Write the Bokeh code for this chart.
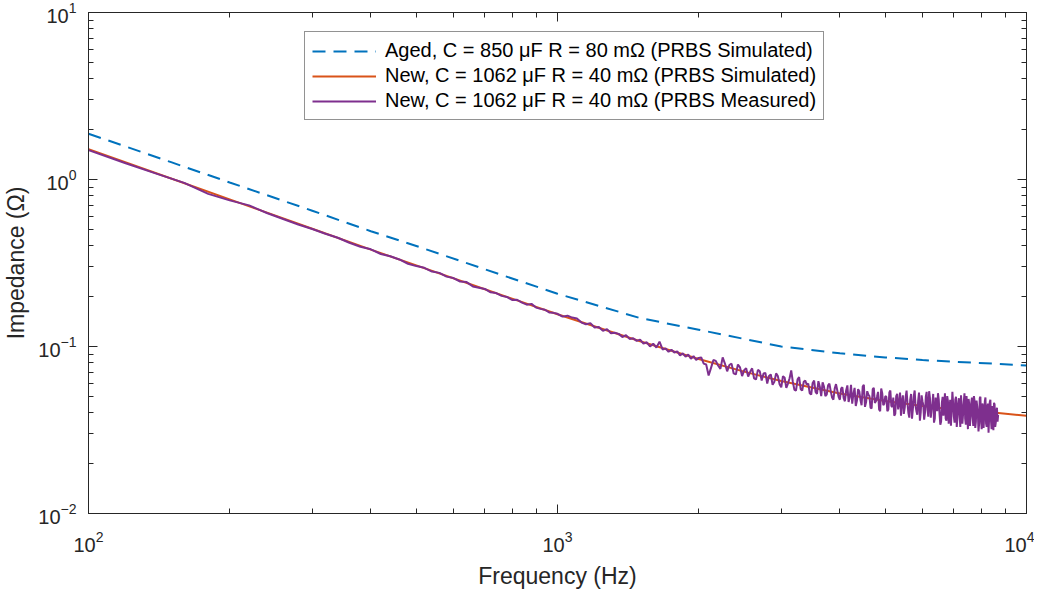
from bokeh.plotting import figure
from bokeh.models import LogAxis, Legend, LegendItem, FixedTicker, Range1d
from bokeh.embed import file_html
from bokeh.resources import INLINE

# ---------------- data ----------------
sim_freq = [100, 150, 200, 300, 400, 500, 700, 1000, 1500, 2000, 2500, 3000,
            4000, 5000, 6000, 7000, 8500, 10000]
aged_sim = [1.88, 1.27, 0.96, 0.65, 0.49, 0.40, 0.29, 0.207, 0.148, 0.126, 0.111,
            0.100, 0.091, 0.086, 0.083, 0.081, 0.079, 0.077]
new_sim = [1.52, 1.013, 0.76, 0.507, 0.38, 0.306, 0.22, 0.156, 0.1075, 0.0841,
           0.0707, 0.0621, 0.0523, 0.0471, 0.0440, 0.0420, 0.0402, 0.0385]

meas_f_low = [100, 120, 140, 160, 180, 200, 220, 240, 260, 280, 300, 320, 340, 360,
              380, 400, 420, 440, 460, 480, 500, 520, 540, 560, 580, 600, 620, 640,
              660, 680, 700, 720, 740, 760, 780, 800, 820, 840, 860, 880, 900, 920,
              940, 960, 980, 1000]
meas_z_low = [1.50, 1.25, 1.08, 0.955, 0.82, 0.75, 0.70, 0.63, 0.58, 0.538, 0.505,
              0.473, 0.448, 0.418, 0.396, 0.382, 0.358, 0.347, 0.332, 0.313, 0.303,
              0.296, 0.281, 0.276, 0.262, 0.257, 0.245, 0.243, 0.229, 0.225, 0.221,
              0.211, 0.209, 0.201, 0.198, 0.190, 0.1905, 0.183, 0.178, 0.180, 0.171,
              0.168, 0.166, 0.160, 0.159, 0.157]

meas_f_mid = [1025, 1050, 1075, 1100, 1125, 1150, 1175, 1200, 1225, 1250, 1275, 1300,
              1325, 1350, 1375, 1400, 1425, 1450, 1475, 1500, 1525, 1550, 1575, 1600,
              1625, 1650, 1675, 1700, 1725, 1750, 1775, 1800, 1825, 1850, 1875, 1900,
              1925, 1950, 1975, 2000]
meas_z_mid = [0.151, 0.153, 0.149, 0.147, 0.139, 0.136, 0.138, 0.130, 0.131, 0.124,
              0.127, 0.120, 0.121, 0.119, 0.114, 0.117, 0.111, 0.112, 0.108, 0.110,
              0.104, 0.106, 0.100, 0.104, 0.0985, 0.107, 0.096, 0.0975, 0.093, 0.0955,
              0.092, 0.0935, 0.0885, 0.091, 0.087, 0.0895, 0.0845, 0.0875, 0.083, 0.0855]

meas_f_high1 = [2050, 2100, 2150, 2200, 2250, 2300, 2350, 2400, 2450, 2500, 2550, 2600,
                2650, 2700, 2750, 2800, 2850, 2900, 2950, 3000, 3050, 3100, 3150, 3200,
                3250, 3300, 3350, 3400, 3450, 3500, 3550, 3600, 3650, 3700, 3750, 3800,
                3850, 3900, 3950, 4000, 4050, 4100, 4150, 4200, 4250, 4300, 4350, 4400,
                4450, 4500, 4550, 4600, 4650, 4700, 4750, 4800, 4850, 4900, 4950, 5000]
meas_z_high1 = [0.079, 0.067, 0.083, 0.077, 0.086, 0.071, 0.079, 0.068, 0.075, 0.072,
                0.066, 0.074, 0.0635, 0.071, 0.069, 0.060, 0.068, 0.0615, 0.0665, 0.057,
                0.065, 0.060, 0.072, 0.055, 0.0635, 0.0555, 0.0615, 0.059, 0.0525, 0.0605,
                0.0535, 0.062, 0.0505, 0.0575, 0.0515, 0.060, 0.0495, 0.056, 0.0545, 0.048,
                0.057, 0.047, 0.0585, 0.050, 0.0455, 0.0565, 0.0475, 0.054, 0.0445, 0.059,
                0.0465, 0.0515, 0.043, 0.0555, 0.046, 0.050, 0.042, 0.056, 0.0445, 0.0505]

meas_f_high1b = [2025, 2075, 2125, 2175, 2225, 2275, 2325, 2375, 2425, 2475, 2525, 2575,
                 2625, 2675, 2725, 2775, 2825, 2875, 2925, 2975, 3025, 3075, 3125, 3175,
                 3225, 3275, 3325, 3375, 3425, 3475, 3525, 3575, 3625, 3675, 3725, 3775,
                 3825, 3875, 3925, 3975, 4025, 4075, 4125, 4175, 4225, 4275, 4325, 4375,
                 4425, 4475, 4525, 4575, 4625, 4675, 4725, 4775, 4825, 4875, 4925, 4975]
meas_z_high1b = [0.086, 0.078, 0.0745, 0.082, 0.0735, 0.079, 0.0775, 0.069, 0.078, 0.0665,
                 0.074, 0.0705, 0.0645, 0.0725, 0.0625, 0.0695, 0.0665, 0.059, 0.069, 0.0595,
                 0.0665, 0.0565, 0.0645, 0.0615, 0.0545, 0.0655, 0.0545, 0.0625, 0.060, 0.0515,
                 0.0625, 0.052, 0.0575, 0.061, 0.0505, 0.0585, 0.054, 0.048, 0.0595, 0.050,
                 0.056, 0.049, 0.0545, 0.0465, 0.059, 0.052, 0.044, 0.0555, 0.048, 0.0575,
                 0.0435, 0.054, 0.0505, 0.0425, 0.0565, 0.047, 0.0535, 0.041, 0.0525, 0.0455]

meas_f_high2 = [5050, 5100, 5150, 5200, 5250, 5300, 5350, 5400, 5450, 5500, 5550, 5600,
                5650, 5700, 5750, 5800, 5850, 5900, 5950, 6000, 6050, 6100, 6150, 6200,
                6250, 6300, 6350, 6400, 6450, 6500, 6550, 6600, 6650, 6700, 6750, 6800,
                6850, 6900, 6950, 7000, 7050, 7100, 7150, 7200, 7250, 7300, 7350, 7400,
                7450, 7500, 7550, 7600, 7650, 7700, 7750, 7800, 7850, 7900, 7950, 8000,
                8050, 8100, 8150, 8200, 8250, 8300, 8350, 8400, 8450, 8500, 8550, 8600,
                8650, 8700]
meas_z_high2 = [0.041, 0.053, 0.044, 0.0495, 0.0395, 0.052, 0.0455, 0.0385, 0.051, 0.043,
                0.0545, 0.040, 0.048, 0.037, 0.0505, 0.044, 0.039, 0.053, 0.0405, 0.047,
                0.0365, 0.050, 0.042, 0.054, 0.0375, 0.0455, 0.035, 0.0495, 0.041, 0.048,
                0.034, 0.046, 0.0385, 0.0525, 0.036, 0.047, 0.040, 0.0335, 0.0535, 0.038,
                0.048, 0.033, 0.0455, 0.0395, 0.051, 0.0345, 0.0465, 0.037, 0.0505, 0.032,
                0.045, 0.0385, 0.0495, 0.0335, 0.047, 0.0355, 0.044, 0.031, 0.049, 0.0365,
                0.0455, 0.0325, 0.047, 0.0345, 0.043, 0.0305, 0.0465, 0.036, 0.044, 0.0315,
                0.045, 0.035, 0.043, 0.039]

meas_f_high2b = [5025, 5075, 5125, 5175, 5225, 5275, 5325, 5375, 5425, 5475, 5525, 5575,
                 5625, 5675, 5725, 5775, 5825, 5875, 5925, 5975, 6025, 6075, 6125, 6175,
                 6225, 6275, 6325, 6375, 6425, 6475, 6525, 6575, 6625, 6675, 6725, 6775,
                 6825, 6875, 6925, 6975, 7025, 7075, 7125, 7175, 7225, 7275, 7325, 7375,
                 7425, 7475, 7525, 7575, 7625, 7675, 7725, 7775, 7825, 7875, 7925, 7975,
                 8025, 8075, 8125, 8175, 8225, 8275, 8325, 8375, 8425, 8475, 8525, 8575,
                 8625, 8675]
meas_z_high2b = [0.050, 0.042, 0.0545, 0.0435, 0.0385, 0.0505, 0.042, 0.053, 0.047, 0.0395,
                 0.050, 0.0455, 0.0375, 0.052, 0.0425, 0.0545, 0.041, 0.0475, 0.036, 0.051,
                 0.0445, 0.040, 0.0535, 0.038, 0.049, 0.042, 0.052, 0.037, 0.0445, 0.0525,
                 0.0395, 0.0355, 0.050, 0.043, 0.037, 0.0505, 0.0345, 0.048, 0.042, 0.046,
                 0.035, 0.050, 0.0375, 0.049, 0.033, 0.044, 0.0395, 0.0525, 0.034, 0.043,
                 0.0485, 0.0335, 0.046, 0.038, 0.0505, 0.0325, 0.0475, 0.040, 0.0345, 0.050,
                 0.032, 0.044, 0.0385, 0.0495, 0.033, 0.0455, 0.0375, 0.048, 0.032, 0.0425,
                 0.046, 0.033, 0.041, 0.0355]

x_major = [100, 1000, 10000]
y_major = [0.01, 0.1, 1, 10]

labels = ["Aged, C = 850 \u03bcF R = 80 m\u03a9 (PRBS Simulated)",
          "New, C = 1062 \u03bcF R = 40 m\u03a9 (PRBS Simulated)",
          "New, C = 1062 \u03bcF R = 40 m\u03a9 (PRBS Measured)"]

# ---------------------------------------------------------------------------
pairs = sorted(zip(meas_f_low + meas_f_mid + meas_f_high1 + meas_f_high1b
                   + meas_f_high2 + meas_f_high2b,
                   meas_z_low + meas_z_mid + meas_z_high1 + meas_z_high1b
                   + meas_z_high2 + meas_z_high2b))
assert len(meas_f_high1b) == len(meas_z_high1b)
assert len(meas_f_high2b) == len(meas_z_high2b)
assert len(meas_f_high1) == len(meas_z_high1)
assert len(meas_f_high2) == len(meas_z_high2)
meas_f = [f for f, _ in pairs]
meas_z = [z for _, z in pairs]

BLUE, ORANGE, PURPLE = "#0072BD", "#D95319", "#7E2F8E"
AX = "#262626"
FONT = "Liberation Sans"

x_minor = [m * d for d in (100, 1000) for m in range(2, 10)]
y_minor = [m * d for d in (0.01, 0.1, 1) for m in range(2, 10)]

p = figure(frame_width=938, frame_height=501, x_axis_type="log", y_axis_type="log",
           x_range=Range1d(100, 10000), y_range=Range1d(0.01, 10),
           output_backend="svg", toolbar_location=None,
           min_border_left=82, min_border_right=8, min_border_top=12,
           min_border_bottom=72)
p.xgrid.visible = False
p.ygrid.visible = False
p.outline_line_color = AX
p.outline_line_width = 1
p.background_fill_color = "white"
p.border_fill_color = "white"

def style_axis(ax, ticks, minor, show_labels):
    ax.ticker = FixedTicker(ticks=ticks, minor_ticks=minor)
    ax.major_tick_in = 9
    ax.major_tick_out = 0
    ax.minor_tick_in = 5
    ax.minor_tick_out = 0
    ax.axis_line_color = AX
    ax.axis_line_width = 1
    ax.major_tick_line_color = AX
    ax.minor_tick_line_color = AX
    ax.major_label_text_color = AX
    ax.major_label_text_font = FONT
    if show_labels:
        ax.major_label_text_font_size = "20px"
    else:
        ax.major_label_text_font_size = "2px"
        ax.major_label_text_alpha = 0
        ax.major_label_standoff = 0

style_axis(p.xaxis[0], x_major, x_minor, True)
style_axis(p.yaxis[0], y_major, y_minor, True)
p.xaxis[0].major_label_standoff = 17
p.yaxis[0].major_label_standoff = 12

p.xaxis[0].axis_label = "Frequency (Hz)"
p.yaxis[0].axis_label = "Impedance (\u03a9)"
for ax in (p.xaxis[0], p.yaxis[0]):
    ax.axis_label_text_font = FONT
    ax.axis_label_text_font_size = "23px"
    ax.axis_label_text_font_style = "normal"
    ax.axis_label_text_color = AX
p.xaxis[0].axis_label_standoff = 8
p.yaxis[0].axis_label_standoff = 6

top = LogAxis()
style_axis(top, x_major, x_minor, False)
p.add_layout(top, "above")
right = LogAxis()
style_axis(right, y_major, y_minor, False)
p.add_layout(right, "right")

r_aged = p.line(sim_freq, aged_sim, line_color=BLUE, line_width=2, line_dash="13 8")
r_new = p.line(sim_freq, new_sim, line_color=ORANGE, line_width=2)
r_meas = p.line(meas_f, meas_z, line_color=PURPLE, line_width=2)

legend = Legend(items=[LegendItem(label=labels[0], renderers=[r_aged]),
                       LegendItem(label=labels[1], renderers=[r_new]),
                       LegendItem(label=labels[2], renderers=[r_meas])],
                location=(216, 393))
legend.border_line_color = AX
legend.border_line_width = 1
legend.background_fill_color = "white"
legend.background_fill_alpha = 1
legend.padding = 7
legend.spacing = 2
legend.margin = 0
legend.label_height = 22
legend.glyph_height = 22
legend.glyph_width = 64
legend.label_standoff = 9
legend.label_text_font = FONT
legend.label_text_font_size = "20px"
legend.label_text_color = "#000000"
p.add_layout(legend, "center")

open("out.html", "w").write(file_html(p, INLINE))
